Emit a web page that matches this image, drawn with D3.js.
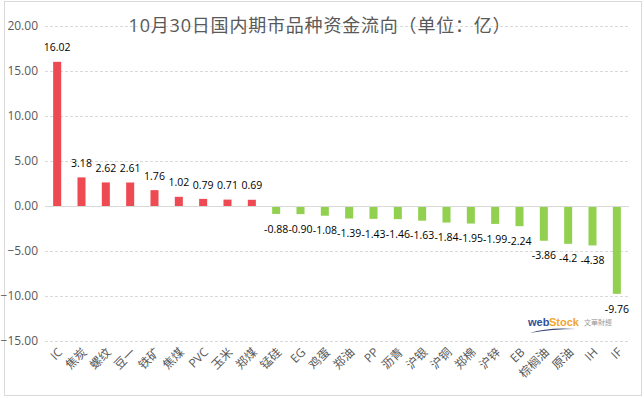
<!DOCTYPE html>
<html>
<head>
<meta charset="utf-8">
<script src="https://cdn.jsdelivr.net/npm/d3@7"></script>
<style>
  body { margin: 0; background: #fff; }
  text { font-family: "Open Sans", "Noto Sans CJK SC", sans-serif; }
</style>
</head>
<body>
<div id="chart"></div>
<script>
const categories = ["IC", "焦炭", "螺纹", "豆一", "铁矿", "焦煤", "PVC", "玉米", "郑煤", "锰硅", "EG", "鸡蛋",
  "郑油", "PP", "沥青", "沪银", "沪铜", "郑棉", "沪锌", "EB", "棕榈油", "原油", "IH", "IF"];
const values = [16.02, 3.18, 2.62, 2.61, 1.76, 1.02, 0.79, 0.71, 0.69, -0.88, -0.90, -1.08,
  -1.39, -1.43, -1.46, -1.63, -1.84, -1.95, -1.99, -2.24, -3.86, -4.2, -4.38, -9.76];
const valueLabels = ["16.02", "3.18", "2.62", "2.61", "1.76", "1.02", "0.79", "0.71", "0.69", "-0.88", "-0.90", "-1.08",
  "-1.39", "-1.43", "-1.46", "-1.63", "-1.84", "-1.95", "-1.99", "-2.24", "-3.86", "-4.2", "-4.38", "-9.76"];
const yTicks = [20, 15, 10, 5, 0, -5, -10, -15];

const width = 644, height = 398;
const margin = { left: 45, right: 15, top: 26, bottom: 57 };

const svg = d3.select("#chart").append("svg")
  .attr("width", width)
  .attr("height", height);

// outer frame
svg.append("rect")
  .attr("x", 4.5).attr("y", 1.5)
  .attr("width", 637).attr("height", 394)
  .attr("fill", "none")
  .attr("stroke", "#d9d9d9");

const x = d3.scaleBand()
  .domain(categories)
  .range([margin.left, width - margin.right])
  .paddingInner(0.67)
  .paddingOuter(0.335);

const y = d3.scaleLinear()
  .domain([-15, 20])
  .range([height - margin.bottom, margin.top]);

// gridlines
svg.append("g")
  .selectAll("line")
  .data(yTicks.filter(d => d !== 0))
  .enter().append("line")
  .attr("x1", margin.left).attr("x2", width - margin.right)
  .attr("y1", d => Math.round(y(d)) + 0.5).attr("y2", d => Math.round(y(d)) + 0.5)
  .attr("stroke", "#d9d9d9")
  .attr("stroke-dasharray", "3,2");

// y labels
svg.append("g")
  .selectAll("text")
  .data(yTicks)
  .enter().append("text")
  .attr("x", 38)
  .attr("y", d => y(d))
  .attr("dy", "0.35em")
  .attr("text-anchor", "end")
  .attr("fill", "#595959")
  .style("font-size", "12px")
  .text(d => d3.format(".2f")(d));

// title
svg.append("text")
  .attr("x", 320)
  .attr("y", 26)
  .attr("dy", "0.35em")
  .attr("text-anchor", "middle")
  .attr("fill", "#595959")
  .style("font-size", "18px")
  .style("letter-spacing", "0.8px")
  .text("10月30日国内期市品种资金流向（单位：亿）");

// bars
svg.append("g")
  .selectAll("rect")
  .data(values)
  .enter().append("rect")
  .attr("x", (d, i) => x(categories[i]))
  .attr("width", x.bandwidth())
  .attr("y", d => y(Math.max(0, d)))
  .attr("height", d => Math.abs(y(d) - y(0)))
  .attr("fill", d => d >= 0 ? "#ee4a53" : "#92d050");

// zero axis line
svg.append("line")
  .attr("x1", margin.left).attr("x2", width - margin.right)
  .attr("y1", Math.round(y(0)) + 0.5).attr("y2", Math.round(y(0)) + 0.5)
  .attr("stroke", "#d9d9d9");

// value labels
svg.append("g")
  .selectAll("text")
  .data(values)
  .enter().append("text")
  .attr("x", (d, i) => x(categories[i]) + x.bandwidth() / 2)
  .attr("y", d => d >= 0 ? y(d) - 14 : y(d) + 15)
  .attr("dy", "0.35em")
  .attr("text-anchor", "middle")
  .attr("fill", "#000")
  .style("font-size", "10.5px")
  .text((d, i) => valueLabels[i]);

// category labels
svg.append("g")
  .selectAll("text")
  .data(categories)
  .enter().append("text")
  .attr("text-anchor", "end")
  .attr("transform", d => "translate(" + (x(d) + x.bandwidth() / 2 + 3) + ",350) rotate(-45)")
  .attr("dy", "0.35em")
  .attr("fill", "#595959")
  .style("font-size", "12px")
  .text(d => d);

// watermark logo
const logo = svg.append("g").attr("transform", "translate(528,326)");
logo.append("text")
  .attr("x", 0).attr("y", 0)
  .style("font-size", "11px").style("font-weight", "bold")
  .style("font-family", "Liberation Sans, sans-serif")
  .attr("fill", "#2f4f9a")
  .text("web");
logo.append("text")
  .attr("x", 21).attr("y", 0)
  .style("font-size", "11px").style("font-weight", "bold")
  .style("font-family", "Liberation Sans, sans-serif")
  .attr("fill", "#f2a531")
  .text("Stock");
logo.append("text")
  .attr("x", 56).attr("y", -1)
  .style("font-size", "7px")
  .attr("fill", "#9a9a9a")
  .text("文華財經");
logo.append("path")
  .attr("d", "M2,7 Q20,1 48,3 Q24,3 2,7 Z")
  .attr("fill", "#2f3f6a");
</script>
</body>
</html>
